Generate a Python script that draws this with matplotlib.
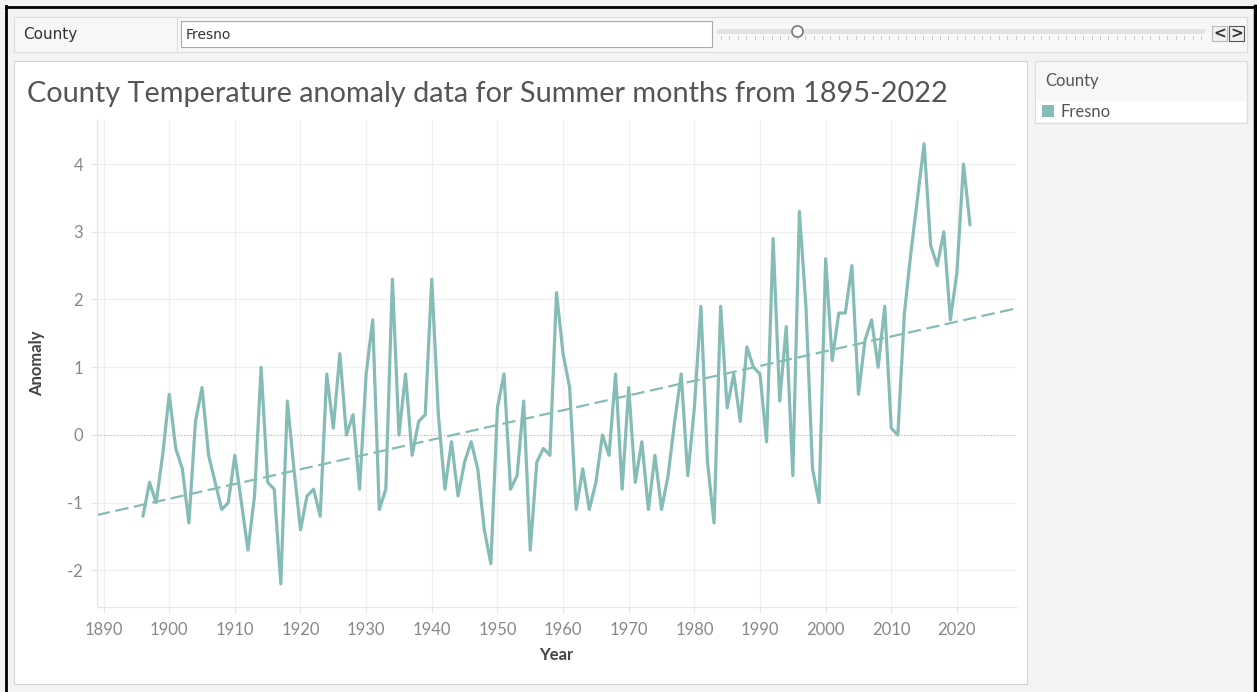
import matplotlib
matplotlib.use('Agg')
import matplotlib.pyplot as plt
from matplotlib.patches import Rectangle
from matplotlib.lines import Line2D
import numpy as np

# ---- data ----
county = "Fresno"
first_year = 1896
anomaly = [
    -1.2, -0.7, -1.0, -0.3,                                      # 1896-1899
    0.6, -0.2, -0.5, -1.3, 0.2, 0.7, -0.3, -0.7, -1.1, -1.0,     # 1900s
    -0.3, -1.0, -1.7, -0.9, 1.0, -0.7, -0.8, -2.2, 0.5, -0.5,    # 1910s
    -1.4, -0.9, -0.8, -1.2, 0.9, 0.1, 1.2, 0.0, 0.3, -0.8,       # 1920s
    0.9, 1.7, -1.1, -0.8, 2.3, 0.0, 0.9, -0.3, 0.2, 0.3,         # 1930s
    2.3, 0.3, -0.8, -0.1, -0.9, -0.4, -0.1, -0.5, -1.4, -1.9,    # 1940s
    0.4, 0.9, -0.8, -0.6, 0.5, -1.7, -0.4, -0.2, -0.3, 2.1,      # 1950s
    1.2, 0.7, -1.1, -0.5, -1.1, -0.7, 0.0, -0.3, 0.9, -0.8,      # 1960s
    0.7, -0.7, -0.1, -1.1, -0.3, -1.1, -0.6, 0.2, 0.9, -0.6,     # 1970s
    0.4, 1.9, -0.4, -1.3, 1.9, 0.4, 0.9, 0.2, 1.3, 1.0,          # 1980s
    0.9, -0.1, 2.9, 0.5, 1.6, -0.6, 3.3, 1.9, -0.5, -1.0,        # 1990s
    2.6, 1.1, 1.8, 1.8, 2.5, 0.6, 1.4, 1.7, 1.0, 1.9,            # 2000s
    0.1, 0.0, 1.8, 2.7, 3.5, 4.3, 2.8, 2.5, 3.0, 1.7,            # 2010s
    2.4, 4.0, 3.1,                                               # 2020-2022
]
years = np.arange(first_year, first_year + len(anomaly))
x_ticks = list(range(1890, 2030, 10))
y_ticks = [-2, -1, 0, 1, 2, 3, 4]
n_counties = 58
county_index = 9

title = "County Temperature anomaly data for Summer months from 1895-2022"
line_color = "#86bcb6"
W, H = 1257, 692

plt.rcParams['font.family'] = ['Lato', 'DejaVu Sans']
plt.rcParams['axes.unicode_minus'] = False

fig = plt.figure(figsize=(W / 100, H / 100), dpi=100)
fig.patch.set_facecolor("#f3f3f3")


def box(x, y, w, h, fc, ec="none", lw=1.0, z=0):
    # pixel box, y measured from top of image
    r = Rectangle((x / W, 1 - (y + h) / H), w / W, h / H, transform=fig.transFigure,
                  facecolor=fc, edgecolor=ec, linewidth=lw, zorder=z)
    fig.add_artist(r)


def line(x0, y0, x1, y1, color, lw=1.0, z=1):
    fig.add_artist(Line2D([x0 / W, x1 / W], [1 - y0 / H, 1 - y1 / H],
                          transform=fig.transFigure, color=color, linewidth=lw, zorder=z))


def txt(x, y, s, **kw):
    fig.text(x / W, 1 - y / H, s, **kw)


# ---- dashboard frame ----
line(6, 6.5, W, 6.5, "black", lw=2.0, z=5)
line(6, 6, 6, H, "black", lw=2.0, z=5)
line(W - 2, 6, W - 2, H, "black", lw=2.5, z=5)

# filter bar
box(14, 17, 1233, 35, "#f7f7f7", "#dcdcdc", 0.8)
line(177, 17, 177, 52, "#dcdcdc", 0.8)
txt(23, 35, "County", fontsize=11, color="#333333", va="center",
    family=['DejaVu Sans'])
box(181, 21, 531, 26, "white", "#a9a9a9", 0.8, z=1)
txt(186, 35, county, fontsize=10, color="#333333", va="center",
    family=['DejaVu Sans'])
# slider
box(717, 29.5, 488, 4, "#e3e3e3", z=1)
for tx in np.linspace(721, 1201, n_counties):
    line(tx, 36, tx, 39, "#c0c0c0", 0.6, z=2)
hx = np.linspace(721, 1201, n_counties)[county_index]
fig.add_artist(Line2D([hx / W], [1 - 31 / H], transform=fig.transFigure, marker="o",
                      markersize=8, markerfacecolor="white", markeredgecolor="#777777",
                      markeredgewidth=1.2, zorder=3))
box(1212, 26, 15, 15, "#f0f0f0", "#b9b9b9", 0.8, z=1)
box(1229, 26, 15, 15, "#f0f0f0", "#555555", 0.8, z=1)
txt(1219.5, 33.5, "<", fontsize=11, fontweight="bold", color="#333333",
    ha="center", va="center", family=['DejaVu Sans'])
txt(1236.5, 33.5, ">", fontsize=11, fontweight="bold", color="#333333",
    ha="center", va="center", family=['DejaVu Sans'])

# chart panel
box(14, 61, 1013, 623, "white", "#d4d4d4", 0.8)
txt(27, 94, title, fontsize=20.8, color="#555555", va="center")

# legend panel
box(1035, 61, 212, 62, "#f7f7f7", "#dcdcdc", 0.8)
box(1036, 101, 210, 21, "white", z=1)
txt(1045, 81, "County", fontsize=12, color="#555555", va="center")
box(1042, 105, 12, 12, line_color, z=2)
txt(1060, 112, county, fontsize=12, color="#555555", va="center")

# ---- the chart itself ----
ax = fig.add_axes([97 / W, (H - 607) / H, (1016 - 97) / W, (607 - 120) / H])
ax.set_facecolor("white")
ax.set_zorder(2)

ax.plot(years, anomaly, color=line_color, linewidth=2.3, solid_joinstyle="round",
        solid_capstyle="round", zorder=3)

xlim = (1889.0, 2029.0)
slope, intercept = np.polyfit(years, anomaly, 1)
tx = np.array(xlim)
ax.plot(tx, slope * tx + intercept, color=line_color, linewidth=1.6,
        linestyle=(0, (6, 2.5)), zorder=2)

ax.axhline(0, color="#bdbdbd", linewidth=0.8, linestyle=(0, (1, 2)), zorder=1)

ax.set_xlim(*xlim)
ax.set_ylim(-2.54, 4.65)
ax.set_xticks(x_ticks)
ax.set_yticks(y_ticks)
ax.grid(True, color="#f0f0f0", linewidth=0.9, zorder=0)
ax.set_axisbelow(True)

for s in ["top", "right"]:
    ax.spines[s].set_visible(False)
for s in ["left", "bottom"]:
    ax.spines[s].set_color("#e6e6e6")
    ax.spines[s].set_linewidth(0.9)

ax.tick_params(axis="both", colors="#e6e6e6", length=4, width=0.9,
               labelcolor="#888888", labelsize=12)
ax.tick_params(axis="x", pad=7)
ax.tick_params(axis="y", pad=6)

ax.set_xlabel("Year", fontsize=12, fontweight="bold", color="#444444", labelpad=6)
ax.set_ylabel("Anomaly", fontsize=12, fontweight="bold", color="#444444", labelpad=26)
ax.yaxis.set_label_coords(-0.057, 0.5)

fig.savefig("out.png", dpi=100, facecolor=fig.get_facecolor())
